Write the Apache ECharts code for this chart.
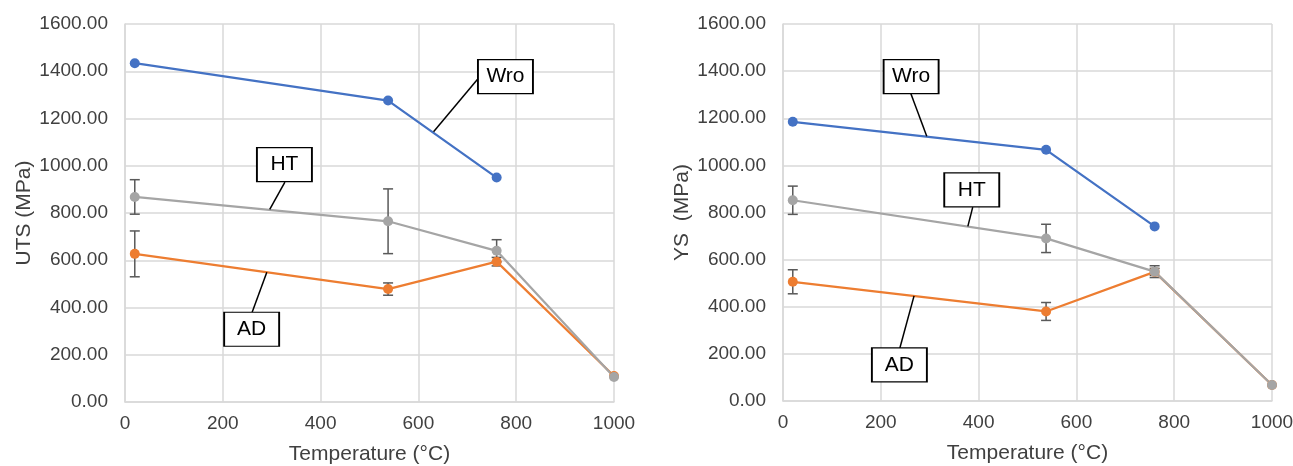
<!DOCTYPE html>
<html><head><meta charset="utf-8">
<script src="https://cdn.jsdelivr.net/npm/echarts@6/dist/echarts.min.js"></script>
<style>html,body{margin:0;padding:0;background:#fff}#c{width:1293px;height:466px}</style>
</head><body><div id="c"></div>
<script>
const temps = [20, 538, 760, 1000];
const xTicks = [0, 200, 400, 600, 800, 1000];
const yTicks = [0, 200, 400, 600, 800, 1000, 1200, 1400, 1600];

const utsWro = [1434, 1276, 950, null];
const utsHT = [868, 765, 640, 106];
const utsHTerr = [73, 137, 47, 0];
const utsAD = [627, 478, 594, 110];
const utsADerr = [97, 26, 18, 0];

const ysWro = [1185, 1066, 741, null];
const ysHT = [852, 690, 549, 68];
const ysHTerr = [60, 60, 25, 0];
const ysAD = [506, 380, 548, 68];
const ysADerr = [51, 38, 15, 0];

const colors = {Wro: '#4472C4', AD: '#ED7D31', HT: '#A5A5A5'};

// callout annotations in data units: [boxX, boxY, leaderStartX, leaderStartY, leaderEndX, leaderEndY]
const utsCallouts = {Wro: [778, 1377, 721, 1366, 631, 1144], HT: [326, 1005, 327, 931, 296, 815], AD: [259, 308, 260, 380, 290, 549]};
const ysCallouts = {Wro: [262, 1377, 261, 1307, 294, 1124], HT: [386, 896, 388, 823, 378, 741], AD: [238, 153, 239, 225, 268, 446]};

const font = '"Liberation Sans", Arial, sans-serif';
const txt = '#404040';
const gridCol = '#D9D9D9';

function pairs(vals) {
  const out = [];
  temps.forEach((t, i) => { if (vals[i] != null) out.push([t, vals[i]]); });
  return out;
}
function errData(vals, errs) {
  const out = [];
  temps.forEach((t, i) => { if (vals[i] != null && errs[i] > 0) out.push([t, vals[i] - errs[i], vals[i] + errs[i]]); });
  return out;
}
function errSeries(idx, vals, errs) {
  return {
    type: 'custom', xAxisIndex: idx, yAxisIndex: idx, z: 1, silent: true,
    data: errData(vals, errs),
    renderItem: function (params, api) {
      const lo = api.coord([api.value(0), api.value(1)]);
      const hi = api.coord([api.value(0), api.value(2)]);
      const w = 5;
      const st = {stroke: '#595959', lineWidth: 1.5};
      return {type: 'group', children: [
        {type: 'line', shape: {x1: lo[0], y1: lo[1], x2: hi[0], y2: hi[1]}, style: st},
        {type: 'line', shape: {x1: lo[0] - w, y1: lo[1], x2: lo[0] + w, y2: lo[1]}, style: st},
        {type: 'line', shape: {x1: hi[0] - w, y1: hi[1], x2: hi[0] + w, y2: hi[1]}, style: st}
      ]};
    }
  };
}
function lineSeries(idx, name, vals, callout) {
  return {
    type: 'line', name: name, xAxisIndex: idx, yAxisIndex: idx, z: 3,
    data: pairs(vals), symbol: 'circle', symbolSize: 10, showSymbol: true,
    lineStyle: {color: colors[name], width: 2.25},
    itemStyle: {color: colors[name]},
    animation: false,
    markLine: {
      silent: true, symbol: 'none', animation: false,
      label: {show: false},
      lineStyle: {color: '#000', width: 1.5, type: 'solid'},
      data: [[{coord: [callout[2], callout[3]]}, {coord: [callout[4], callout[5]]}]]
    },
    markPoint: {
      silent: true, animation: false,
      symbol: 'rect', symbolSize: [55, 34],
      itemStyle: {color: '#fff', borderColor: '#000', borderWidth: 1.5},
      label: {show: true, position: 'inside', formatter: name, color: '#000', fontSize: 21, fontFamily: font},
      data: [{coord: [callout[0], callout[1]]}]
    }
  };
}
function xAxis(idx) {
  return {
    type: 'value', gridIndex: idx, min: xTicks[0], max: xTicks[xTicks.length - 1], interval: 200,
    name: 'Temperature (°C)', nameLocation: 'middle', nameGap: 42,
    nameTextStyle: {color: txt, fontSize: 21, fontFamily: font},
    axisLine: {show: true, lineStyle: {color: gridCol, width: 1.5}},
    axisTick: {show: false},
    axisLabel: {color: txt, fontSize: 19, fontFamily: font, margin: 12, formatter: v => String(v)},
    splitLine: {show: true, lineStyle: {color: gridCol, width: 1.5}}
  };
}
function yAxis(idx, name) {
  return {
    type: 'value', gridIndex: idx, min: yTicks[0], max: yTicks[yTicks.length - 1], interval: 200,
    name: name, nameLocation: 'middle', nameGap: 90,
    nameTextStyle: {color: txt, fontSize: 21, fontFamily: font},
    axisLine: {show: true, lineStyle: {color: gridCol, width: 1.5}},
    axisTick: {show: false},
    axisLabel: {color: txt, fontSize: 19, fontFamily: font, margin: 17, formatter: v => v.toFixed(2)},
    splitLine: {show: true, lineStyle: {color: gridCol, width: 1.5}}
  };
}

const chart = echarts.init(document.getElementById('c'), null, {renderer: 'canvas'});
chart.setOption({
  animation: false,
  backgroundColor: '#fff',
  grid: [
    {left: 125, right: 679, top: 24, bottom: 64, outerBoundsMode: 'none', containLabel: false},
    {left: 783, right: 21, top: 24, bottom: 65, outerBoundsMode: 'none', containLabel: false}
  ],
  xAxis: [xAxis(0), xAxis(1)],
  yAxis: [yAxis(0, 'UTS (MPa)'), yAxis(1, 'YS  (MPa)')],
  series: [
    errSeries(0, utsAD, utsADerr),
    errSeries(0, utsHT, utsHTerr),
    lineSeries(0, 'Wro', utsWro, utsCallouts.Wro),
    lineSeries(0, 'AD', utsAD, utsCallouts.AD),
    lineSeries(0, 'HT', utsHT, utsCallouts.HT),
    errSeries(1, ysAD, ysADerr),
    errSeries(1, ysHT, ysHTerr),
    lineSeries(1, 'Wro', ysWro, ysCallouts.Wro),
    lineSeries(1, 'AD', ysAD, ysCallouts.AD),
    lineSeries(1, 'HT', ysHT, ysCallouts.HT)
  ]
});
</script>
</body></html>
